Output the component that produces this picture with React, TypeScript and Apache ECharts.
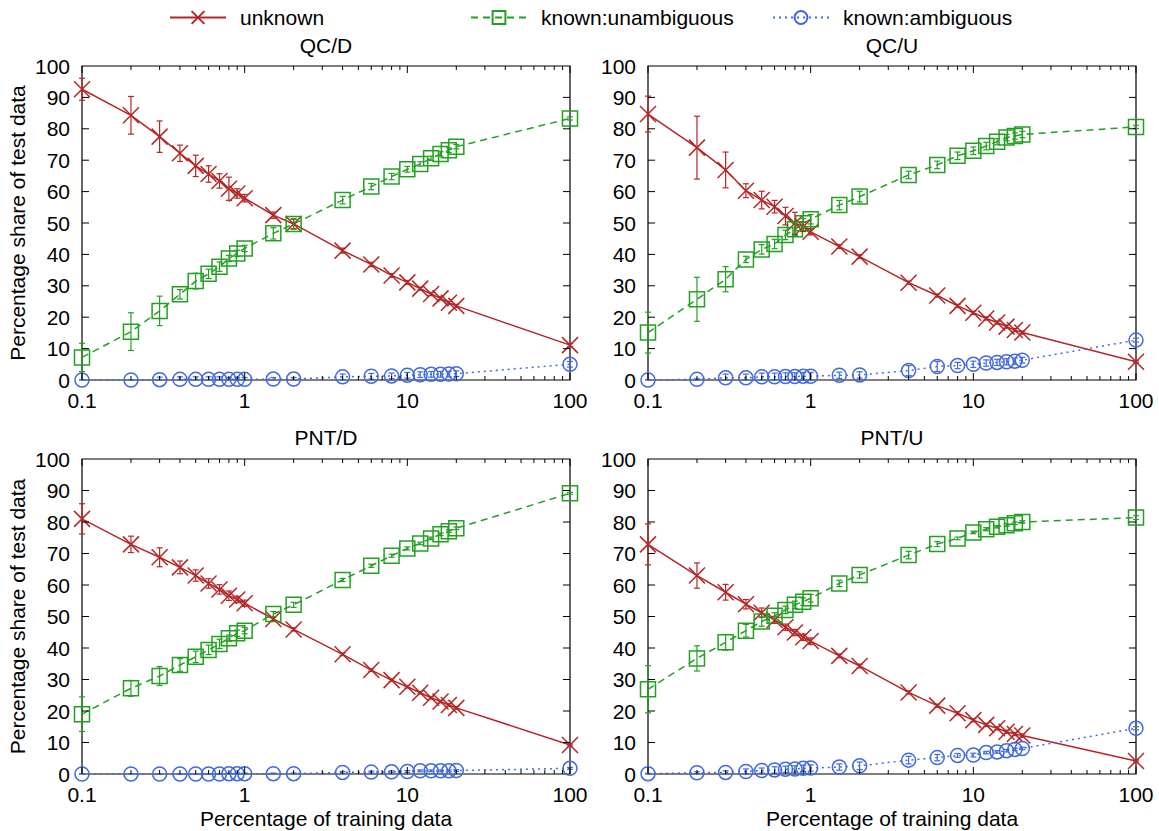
import React, { useEffect, useRef } from "react";
import * as echarts from "echarts";

const xValues = [0.1, 0.2, 0.3, 0.4, 0.5, 0.6, 0.7, 0.8, 0.9, 1, 1.5, 2, 4, 6, 8, 10, 12, 14, 16, 18, 20, 100];
const xMajorTicks = [0.1, 1, 10, 100];
const xMinorTicks = [0.2, 0.3, 0.4, 0.5, 0.6, 0.7, 0.8, 0.9, 2, 3, 4, 5, 6, 7, 8, 9, 20, 30, 40, 50, 60, 70, 80, 90];
const yTicks = [10, 20, 30, 40, 50, 60, 70, 80, 90];

const panelTitles = ["QC/D", "QC/U", "PNT/D", "PNT/U"];
const seriesNames = ["unknown", "known:unambiguous", "known:ambiguous"];

// QC/D
const qcdUnknown = [92.6, 84.3, 77.5, 72.2, 68.2, 65.6, 63.4, 60.9, 59.4, 57.9, 52.5, 49.7, 41.2, 36.8, 33.3, 31.1, 29.1, 27.4, 26.0, 24.6, 23.6, 11.1];
const qcdUnknownErr = [3.5, 6.0, 5.0, 2.6, 3.4, 2.6, 2.3, 3.7, 1.5, 1.2, 1.0, 1.5, 0.8, 0.7, 0.6, 0.6, 0.5, 0.5, 0.5, 0.5, 0.5, 0.5];
const qcdUnamb = [7.2, 15.4, 22.0, 27.3, 31.5, 33.8, 36.1, 38.7, 40.3, 41.9, 46.7, 49.7, 57.3, 61.6, 64.8, 67.1, 68.8, 70.6, 72.0, 73.2, 74.3, 83.3];
const qcdUnambErr = [4.5, 6.0, 4.7, 1.5, 2.5, 1.5, 1.5, 1.0, 1.0, 1.0, 1.8, 1.7, 1.2, 1.0, 1.0, 0.9, 0.7, 0.7, 0.7, 0.7, 0.7, 0.5];
const qcdAmb = [0, 0, 0.1, 0.2, 0.2, 0.2, 0.2, 0.2, 0.2, 0.2, 0.3, 0.3, 1.0, 1.2, 1.3, 1.5, 1.7, 1.8, 1.8, 1.9, 2.0, 5.0];
const qcdAmbErr = [0.1, 0.1, 0.8, 0.8, 0.8, 0.8, 0.8, 0.6, 0.6, 0.6, 0.5, 0.5, 0.9, 0.9, 0.9, 0.9, 0.9, 0.9, 0.9, 0.9, 0.9, 0.9];

// QC/U
const qcuUnknown = [84.7, 74.0, 66.9, 60.3, 57.3, 55.2, 52.2, 49.9, 48.8, 47.2, 42.5, 39.3, 31.0, 26.9, 23.6, 21.4, 19.6, 18.3, 17.0, 15.9, 15.1, 5.8];
const qcuUnknownErr = [5.7, 10.0, 5.7, 2.2, 2.8, 2.0, 2.8, 3.5, 1.5, 1.0, 0.6, 0.6, 0.5, 0.5, 0.5, 0.5, 0.5, 0.5, 0.5, 0.5, 0.5, 0.3];
const qcuUnamb = [15.1, 25.7, 32.1, 38.4, 41.6, 43.3, 46.2, 48.0, 49.9, 51.2, 55.7, 58.4, 65.3, 68.5, 71.4, 73.0, 74.5, 75.9, 77.2, 77.7, 78.2, 80.6];
const qcuUnambErr = [6.5, 7.0, 4.0, 1.0, 1.5, 1.5, 1.5, 2.0, 1.5, 1.5, 1.5, 1.7, 1.2, 1.2, 1.2, 1.2, 1.2, 1.0, 1.0, 1.0, 1.0, 0.5];
const qcuAmb = [0, 0.2, 0.7, 0.7, 1.0, 1.0, 1.1, 1.1, 1.2, 1.2, 1.5, 1.6, 3.0, 4.3, 4.6, 5.0, 5.4, 5.6, 5.8, 6.0, 6.3, 12.7];
const qcuAmbErr = [0.1, 0.2, 1.2, 1.2, 1.2, 1.2, 1.2, 1.2, 1.2, 1.2, 1.0, 1.0, 1.6, 1.6, 1.0, 1.0, 1.0, 1.0, 1.0, 1.0, 0.9, 0.6];

// PNT/D
const pntdUnknown = [81.0, 72.9, 68.8, 65.6, 63.0, 60.5, 58.6, 56.6, 55.4, 54.2, 49.2, 45.9, 38.0, 33.0, 29.8, 27.7, 25.8, 24.2, 23.0, 21.9, 21.0, 9.2];
const pntdUnknownErr = [4.8, 2.6, 3.0, 2.0, 1.8, 1.5, 1.5, 1.5, 1.0, 1.0, 0.5, 0.5, 0.4, 0.4, 0.4, 0.4, 0.4, 0.4, 0.4, 0.4, 0.4, 0.3];
const pntdUnamb = [19.0, 27.2, 31.1, 34.6, 37.2, 39.4, 41.3, 43.1, 44.7, 45.5, 50.8, 53.7, 61.6, 66.1, 69.3, 71.6, 73.2, 74.8, 76.1, 77.1, 78.0, 89.1];
const pntdUnambErr = [5.5, 2.5, 3.0, 2.0, 1.8, 1.5, 1.5, 1.0, 1.0, 1.0, 0.8, 0.8, 0.5, 0.5, 0.5, 0.5, 0.4, 0.4, 0.4, 0.4, 0.4, 0.3];
const pntdAmb = [0, 0, 0, 0, 0, 0, 0, 0.1, 0.1, 0.1, 0.1, 0.1, 0.5, 0.6, 0.7, 0.8, 1.0, 1.0, 1.0, 1.0, 1.1, 1.8];
const pntdAmbErr = [0.1, 0.1, 0.1, 0.1, 0.1, 0.1, 0.1, 0.2, 0.2, 0.2, 0.2, 0.2, 0.3, 0.3, 0.3, 0.3, 0.3, 0.3, 0.3, 0.3, 0.3, 0.3];

// PNT/U
const pntuUnknown = [72.9, 63.0, 57.7, 53.9, 51.2, 48.9, 46.6, 44.9, 43.4, 42.2, 37.5, 34.3, 25.9, 21.7, 19.3, 17.1, 15.6, 14.5, 13.4, 12.7, 12.2, 4.1];
const pntuUnknownErr = [6.5, 4.0, 2.5, 1.5, 1.5, 1.0, 1.0, 1.0, 1.0, 1.0, 0.6, 0.6, 0.5, 0.5, 0.5, 0.5, 0.5, 0.5, 0.5, 0.5, 0.5, 0.3];
const pntuUnamb = [26.9, 36.7, 41.8, 45.5, 48.4, 50.2, 52.1, 53.7, 54.7, 55.8, 60.5, 63.2, 69.5, 73.0, 74.8, 76.7, 77.7, 78.5, 79.0, 79.6, 80.0, 81.4];
const pntuUnambErr = [7.5, 4.0, 2.5, 2.0, 1.5, 1.0, 1.2, 1.2, 1.2, 1.2, 1.0, 1.0, 1.2, 0.8, 0.4, 0.4, 0.5, 0.4, 0.4, 0.4, 0.4, 0.6];
const pntuAmb = [0.1, 0.4, 0.5, 0.8, 1.1, 1.3, 1.5, 1.6, 1.8, 1.9, 2.2, 2.6, 4.4, 5.2, 5.9, 6.0, 6.8, 7.0, 7.4, 7.8, 8.1, 14.5];
const pntuAmbErr = [0.1, 0.3, 0.5, 0.8, 0.8, 1.0, 1.0, 1.0, 1.0, 1.0, 1.0, 1.2, 1.2, 1.0, 0.6, 0.6, 0.4, 0.4, 0.4, 0.4, 0.4, 0.5];

const panels = [
  { vals: [qcdUnknown, qcdUnamb, qcdAmb], errs: [qcdUnknownErr, qcdUnambErr, qcdAmbErr] },
  { vals: [qcuUnknown, qcuUnamb, qcuAmb], errs: [qcuUnknownErr, qcuUnambErr, qcuAmbErr] },
  { vals: [pntdUnknown, pntdUnamb, pntdAmb], errs: [pntdUnknownErr, pntdUnambErr, pntdAmbErr] },
  { vals: [pntuUnknown, pntuUnamb, pntuAmb], errs: [pntuUnknownErr, pntuUnambErr, pntuAmbErr] },
];

const COLORS = ["#b52626", "#22a022", "#4169e1"];
const FONT = "'Liberation Sans', Arial, Helvetica, sans-serif";
const SYMBOLS = [
  "path://M0,0L10,10M10,0L0,10",
  "path://M0,0L10,0L10,10L0,10Z",
  "path://M10,5A5,5,0,1,1,0,5A5,5,0,1,1,10,5Z",
];
const SYMBOL_SIZES = [16, 15, 14];
const LINE_TYPES: any[] = ["solid", [7, 5], [2, 4]];

const GRIDS = [
  { left: 82, top: 66, width: 488, height: 314 },
  { left: 648, top: 66, width: 488, height: 314 },
  { left: 82, top: 459, width: 488, height: 315 },
  { left: 648, top: 459, width: 488, height: 315 },
];

function errRender(color: string) {
  return (params: any, api: any) => {
    const x = api.value(0);
    const y = api.value(1);
    const e = api.value(2);
    const lo = Math.max(0, y - e);
    const hi = Math.min(100, y + e);
    const p1 = api.coord([x, hi]);
    const p2 = api.coord([x, lo]);
    const w = 3;
    const st = { stroke: color, lineWidth: 1.2 };
    return {
      type: "group",
      children: [
        { type: "line", shape: { x1: p1[0], y1: p1[1], x2: p2[0], y2: p2[1] }, style: st },
        { type: "line", shape: { x1: p1[0] - w, y1: p1[1], x2: p1[0] + w, y2: p1[1] }, style: st },
        { type: "line", shape: { x1: p2[0] - w, y1: p2[1], x2: p2[0] + w, y2: p2[1] }, style: st },
      ],
    };
  };
}

function tickRender(params: any, api: any) {
  const v0 = api.value(0);
  const v1 = api.value(1);
  const kind = api.value(2);
  const st = { stroke: "#000", lineWidth: 1 };
  if (kind < 2) {
    const pb = api.coord([v0, 0]);
    const pt = api.coord([v0, 100]);
    const len = kind === 0 ? 7 : 4;
    return {
      type: "group",
      children: [
        { type: "line", shape: { x1: pb[0], y1: pb[1], x2: pb[0], y2: pb[1] - len }, style: st },
        { type: "line", shape: { x1: pt[0], y1: pt[1], x2: pt[0], y2: pt[1] + len }, style: st },
      ],
    };
  }
  const pl = api.coord([0.1, v1]);
  const pr = api.coord([100, v1]);
  return {
    type: "group",
    children: [
      { type: "line", shape: { x1: pl[0], y1: pl[1], x2: pl[0] + 7, y2: pl[1] }, style: st },
      { type: "line", shape: { x1: pr[0], y1: pr[1], x2: pr[0] - 7, y2: pr[1] }, style: st },
    ],
  };
}

export default function App() {
  const ref = useRef<HTMLDivElement>(null);

  useEffect(() => {
    if (!ref.current) return;
    const chart = echarts.init(ref.current, null, { renderer: "svg" });

    const tickData: any[] = [];
    xMajorTicks.forEach((v) => tickData.push([v, 0, 0]));
    xMinorTicks.forEach((v) => tickData.push([v, 0, 1]));
    yTicks.forEach((v) => tickData.push([0.1, v, 2]));

    const grid = GRIDS.map((g) => ({
      ...g,
      show: true,
      borderColor: "#000",
      borderWidth: 1.2,
      backgroundColor: "transparent",
      containLabel: false,
      outerBoundsMode: "none",
    }));

    const xAxis = GRIDS.map((_, i) => ({
      type: "log",
      logBase: 10,
      gridIndex: i,
      min: 0.1,
      max: 100,
      axisLine: { show: false },
      axisTick: { show: false },
      splitLine: { show: false },
      minorTick: { show: false },
      axisLabel: {
        fontSize: 21,
        fontFamily: FONT,
        color: "#000",
        margin: 10,
        formatter: (v: number) => String(+Number(v).toPrecision(3)),
      },
      name: i >= 2 ? "Percentage of training data" : "",
      nameLocation: "middle",
      nameGap: 34,
      nameTextStyle: { fontSize: 21, fontFamily: FONT, color: "#000" },
    }));

    const yAxis = GRIDS.map((_, i) => ({
      type: "value",
      gridIndex: i,
      min: 0,
      max: 100,
      interval: 10,
      axisLine: { show: false },
      axisTick: { show: false },
      splitLine: { show: false },
      axisLabel: { fontSize: 21, fontFamily: FONT, color: "#000", margin: 12 },
      name: i % 2 === 0 ? "Percentage share of test data" : "",
      nameLocation: "middle",
      nameGap: 54,
      nameTextStyle: { fontSize: 21, fontFamily: FONT, color: "#000" },
    }));

    const series: any[] = [];
    panels.forEach((p, gi) => {
      p.vals.forEach((vals, si) => {
        series.push({
          type: "line",
          name: seriesNames[si],
          xAxisIndex: gi,
          yAxisIndex: gi,
          data: xValues.map((x, k) => [x, vals[k]]),
          symbol: SYMBOLS[si],
          symbolSize: SYMBOL_SIZES[si],
          showAllSymbol: true,
          color: COLORS[si],
          lineStyle: { color: COLORS[si], width: 1.5, type: LINE_TYPES[si] },
          itemStyle: { color: "transparent", borderColor: COLORS[si], borderWidth: 1.5 },
          z: 2,
        });
      });
      p.vals.forEach((vals, si) => {
        series.push({
          type: "custom",
          xAxisIndex: gi,
          yAxisIndex: gi,
          data: xValues.map((x, k) => [x, vals[k], p.errs[si][k]]),
          encode: { x: 0, y: 1 },
          renderItem: errRender(COLORS[si]),
          silent: true,
          z: 3,
        });
      });
      series.push({
        type: "custom",
        xAxisIndex: gi,
        yAxisIndex: gi,
        data: tickData,
        encode: { x: 0, y: 1 },
        renderItem: tickRender,
        silent: true,
        z: 4,
      });
    });

    const legendLefts = [169, 470, 772];
    const legend = seriesNames.map((n, i) => ({
      data: [n],
      left: legendLefts[i],
      top: 7,
      padding: 0,
      itemWidth: 56,
      itemHeight: 16,
      selectedMode: false,
      textStyle: { fontSize: 21, fontFamily: FONT, color: "#000", padding: [0, 0, 0, 9] },
    }));

    const titleCenters = [
      [326, 45],
      [892, 45],
      [326, 437],
      [892, 437],
    ];
    const graphic = panelTitles.map((t, i) => ({
      type: "text",
      x: titleCenters[i][0],
      y: titleCenters[i][1],
      style: {
        text: t,
        fontSize: 21,
        fontFamily: FONT,
        fill: "#000",
        align: "center",
        verticalAlign: "middle",
      },
    }));

    chart.setOption({
      animation: false,
      backgroundColor: "#fff",
      grid,
      xAxis,
      yAxis,
      legend,
      graphic,
      series,
    });

    return () => chart.dispose();
  }, []);

  return (
    <div
      ref={ref}
      style={{ position: "absolute", left: 0, top: 0, width: 1159, height: 831 }}
    />
  );
}
